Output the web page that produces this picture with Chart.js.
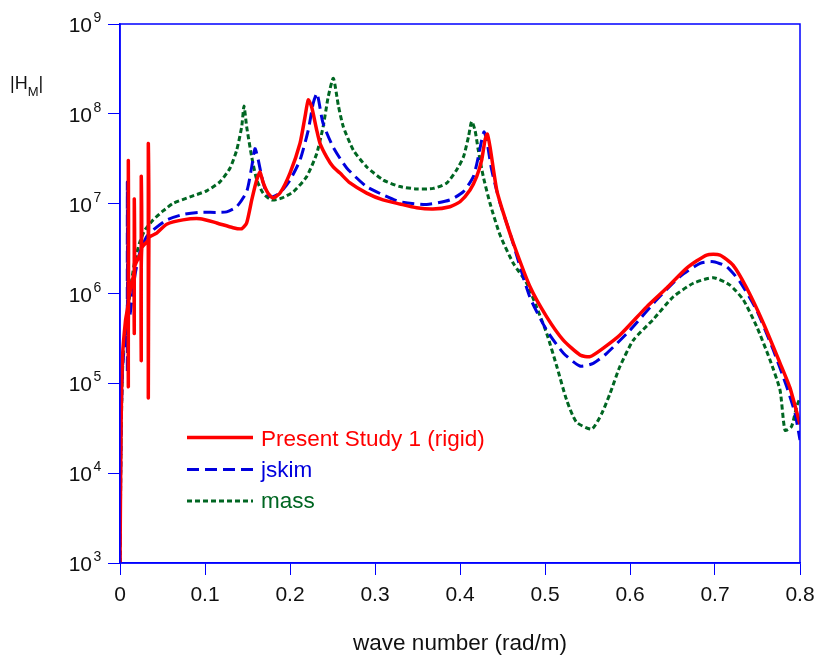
<!DOCTYPE html>
<html>
<head>
<meta charset="utf-8">
<title>|H_M| vs wave number</title>
<script src="https://cdn.jsdelivr.net/npm/chart.js@4.4.1/dist/chart.umd.min.js"></script>
<style>
  html, body { margin: 0; padding: 0; background: #fff; }
  #wrap { width: 816px; height: 657px; }
</style>
</head>
<body>
<div id="wrap"><canvas id="chart" width="816" height="657"></canvas></div>
<script>
// tick values
const xTicks = [0, 0.1, 0.2, 0.3, 0.4, 0.5, 0.6, 0.7, 0.8];
const yExps = [3, 4, 5, 6, 7, 8, 9];

// Present Study 1 (rigid)
const presentX = [0, 0.0012, 0.003, 0.0065, 0.0098, 0.0098, 0.0098, 0.0104, 0.0168, 0.0168, 0.0168, 0.0174,
  0.025, 0.025, 0.025, 0.0256, 0.0333, 0.0333, 0.0333, 0.034, 0.0353, 0.0432, 0.0549, 0.0741, 0.0941, 0.1138,
  0.1329, 0.1432, 0.149, 0.155, 0.1608, 0.1647, 0.1682, 0.1741, 0.18, 0.1882, 0.2, 0.2118, 0.2176, 0.2215,
  0.2255, 0.2314, 0.2353, 0.2432, 0.2506, 0.2588, 0.2706, 0.2902, 0.3094, 0.3294, 0.349, 0.3682, 0.3882, 0.4,
  0.4118, 0.4196, 0.4255, 0.4294, 0.4321, 0.4353, 0.4432, 0.451, 0.4627, 0.4824, 0.502, 0.5215, 0.5412, 0.5529,
  0.5686, 0.5882, 0.6196, 0.6432, 0.6667, 0.6902, 0.7059, 0.7212, 0.7373, 0.7568, 0.7765, 0.7882, 0.8];
const presentY = [1e3, 3e4, 2e5, 5e5, 8e5, 3e7, 9.3e4, 9e5, 1.8e6, 1.12e7, 3.6e5, 2e6,
  3e6, 2e7, 1.8e5, 3.2e6, 4e6, 4.6e7, 6.9e4, 4.1e6, 4.3e6, 4.7e6, 5.9e6, 6.6e6, 6.8e6, 6.1e6,
  5.4e6, 5.26e6, 6.1e6, 1.1e7, 1.83e7, 2.25e7, 1.74e7, 1.31e7, 1.16e7, 1.31e7, 2.19e7, 4.7e7, 9.2e7, 1.43e8,
  1.19e8, 6.6e7, 4.7e7, 3.3e7, 2.58e7, 2.19e7, 1.7e7, 1.31e7, 1.1e7, 9.9e6, 9.0e6, 8.7e6, 9.25e6, 1.05e7,
  1.42e7, 2.0e7, 3.06e7, 5.1e7, 5.96e7, 4.3e7, 1.42e7, 7.9e6, 3.65e6, 1.19e6, 5.5e5, 3.03e5, 2.07e5, 1.98e5,
  2.47e5, 3.45e5, 7.1e5, 1.15e6, 1.92e6, 2.68e6, 2.68e6, 2.07e6, 1.15e6, 4.7e5, 1.68e5, 8.9e4, 3.5e4];

// jskim
const jskimX = [0, 0.0012, 0.003, 0.006, 0.0086, 0.0086, 0.0086, 0.0092, 0.0118, 0.0176, 0.0235, 0.0314, 0.039,
  0.055, 0.0745, 0.094, 0.1137, 0.1255, 0.1373, 0.149, 0.155, 0.1588, 0.1627, 0.1667, 0.1725, 0.1785, 0.188,
  0.2, 0.2118, 0.2215, 0.2274, 0.2318, 0.2388, 0.2506, 0.2667, 0.29, 0.3098, 0.3294, 0.3608, 0.388, 0.404,
  0.4157, 0.4215, 0.4255, 0.4282, 0.4314, 0.4373, 0.447, 0.4588, 0.482, 0.502, 0.5215, 0.541, 0.5568, 0.5726,
  0.6, 0.6314, 0.6588, 0.6824, 0.698, 0.7137, 0.7294, 0.749, 0.7686, 0.7843, 0.794, 0.8];
const jskimY = [1e3, 2.5e4, 1.5e5, 3e5, 4.5e5, 1.74e7, 1.34e5, 4.8e5, 5.8e5, 1.6e6, 2.9e6, 4.3e6, 5.1e6,
  6.6e6, 7.6e6, 8.0e6, 8.0e6, 8.1e6, 9.25e6, 1.36e7, 2.58e7, 4.1e7, 3.06e7, 2.0e7, 1.3e7, 1.19e7, 1.31e7,
  1.83e7, 3.06e7, 6.6e7, 1.32e8, 1.69e8, 7.9e7, 4.3e7, 2.5e7, 1.55e7, 1.25e7, 1.05e7, 9.8e6, 1.1e7, 1.36e7,
  2.0e7, 3.3e7, 5.1e7, 6.3e7, 5.1e7, 2.37e7, 1.02e7, 4.7e6, 9.2e5, 3.9e5, 2.18e5, 1.56e5, 1.67e5, 2.16e5,
  3.9e5, 8.5e5, 1.54e6, 2.17e6, 2.26e6, 1.99e6, 1.35e6, 6.5e5, 2.35e5, 9.2e4, 4.7e4, 2.34e4];

// mass
const massX = [0, 0.0012, 0.0025, 0.0039, 0.0059, 0.0098, 0.0138, 0.0176, 0.0235, 0.0294, 0.039, 0.051, 0.0627,
  0.0824, 0.102, 0.1176, 0.1294, 0.1373, 0.1432, 0.1459, 0.149, 0.155, 0.161, 0.1686, 0.1785, 0.19, 0.204,
  0.2196, 0.2314, 0.239, 0.245, 0.251, 0.257, 0.2627, 0.2745, 0.29, 0.3098, 0.3294, 0.349, 0.3686, 0.3843,
  0.396, 0.404, 0.41, 0.4137, 0.4176, 0.4215, 0.4274, 0.4353, 0.447, 0.4627, 0.4785, 0.49, 0.502, 0.514,
  0.5255, 0.537, 0.555, 0.5667, 0.5765, 0.588, 0.604, 0.627, 0.651, 0.6745, 0.698, 0.7176, 0.7333, 0.749,
  0.7647, 0.7765, 0.7824, 0.79, 0.796, 0.8];
const massY = [1e3, 2e4, 1e5, 2.2e5, 3.6e5, 7.1e5, 1.41e6, 2.36e6, 3.78e6, 5.1e6, 6.6e6, 8.35e6, 1.01e7,
  1.19e7, 1.39e7, 1.75e7, 2.48e7, 3.95e7, 7.2e7, 1.22e8, 7.2e7, 3.3e7, 1.83e7, 1.3e7, 1.1e7, 1.15e7, 1.36e7,
  2.0e7, 3.6e7, 7.2e7, 1.55e8, 2.49e8, 1.22e8, 7.2e7, 3.95e7, 2.58e7, 1.83e7, 1.55e7, 1.46e7, 1.48e7, 1.69e7,
  2.37e7, 3.3e7, 5.56e7, 8.2e7, 6.6e7, 3.95e7, 2.0e7, 1.01e7, 4.5e6, 2.17e6, 1.3e6, 7.1e5, 3.6e5, 1.53e5,
  6.5e4, 3.7e4, 3.1e4, 4.6e4, 7.7e4, 1.53e5, 3.03e5, 5.1e5, 9.2e5, 1.3e6, 1.5e6, 1.24e6, 8.5e5, 4.3e5,
  1.82e5, 8.4e4, 3.0e4, 3.3e4, 5.5e4, 6.9e4];

const FONT = "'Liberation Sans', Arial, Helvetica, sans-serif";
const BLUE_AXIS = "#0000ff";

const series = [
  { label: "Present Study 1 (rigid)", xs: presentX, ys: presentY, color: "#ff0000", width: 3.5, dash: [] },
  { label: "jskim", xs: jskimX, ys: jskimY, color: "#0000dd", width: 3, dash: [12, 6] },
  { label: "mass", xs: massX, ys: massY, color: "#006622", width: 3, dash: [5, 3] },
];

// blue box round the plot area
const framePlugin = {
  id: "frame",
  afterDraw(chart) {
    const { ctx, chartArea: a } = chart;
    ctx.save();
    ctx.strokeStyle = BLUE_AXIS;
    ctx.lineWidth = 1.5;
    ctx.strokeRect(a.left, a.top, a.right - a.left, a.bottom - a.top);
    ctx.restore();
  },
};

// 10^n labels and the |H_M| axis label
const yLabelPlugin = {
  id: "yLabels",
  afterDraw(chart) {
    const { ctx } = chart;
    const y = chart.scales.y;
    ctx.save();
    ctx.fillStyle = "#111";
    ctx.textBaseline = "alphabetic";
    yExps.forEach((e) => {
      const py = y.getPixelForValue(Math.pow(10, e));
      ctx.font = "21px " + FONT;
      ctx.textAlign = "right";
      ctx.fillText("10", 92, py + 8);
      ctx.font = "14px " + FONT;
      ctx.textAlign = "left";
      ctx.fillText(String(e), 93.5, py - 2);
    });

    // |H_M|
    ctx.textAlign = "left";
    ctx.font = "18px " + FONT;
    let x = 10;
    ctx.fillText("|H", x, 89);
    x += ctx.measureText("|H").width;
    ctx.font = "13px " + FONT;
    ctx.fillText("M", x, 96);
    x += ctx.measureText("M").width;
    ctx.font = "18px " + FONT;
    ctx.fillText("|", x, 89);
    ctx.restore();
  },
};

// legend inside the plot
const legendPlugin = {
  id: "insideLegend",
  afterDatasetsDraw(chart) {
    const { ctx } = chart;
    const lineY = [437.5, 469.5, 501];
    const textY = [440, 471, 502];
    ctx.save();
    series.forEach((s, i) => {
      ctx.strokeStyle = s.color;
      ctx.lineWidth = s.width;
      ctx.setLineDash(s.dash);
      ctx.beginPath();
      ctx.moveTo(187, lineY[i]);
      ctx.lineTo(253, lineY[i]);
      ctx.stroke();
      ctx.setLineDash([]);
      ctx.fillStyle = s.color;
      ctx.font = "22.5px " + FONT;
      ctx.textAlign = "left";
      ctx.textBaseline = "middle";
      ctx.fillText(s.label, 261, textY[i]);
    });
    ctx.restore();
  },
};

const ctx = document.getElementById("chart").getContext("2d");
new Chart(ctx, {
  type: "scatter",
  data: {
    datasets: series.map((s) => ({
      label: s.label,
      data: s.xs.map((x, i) => ({ x: x, y: s.ys[i] })),
      showLine: true,
      borderColor: s.color,
      backgroundColor: s.color,
      borderWidth: s.width,
      borderDash: s.dash,
      pointRadius: 0,
      tension: 0.2,
      fill: false,
    })),
  },
  options: {
    responsive: false,
    animation: false,
    devicePixelRatio: 1,
    layout: { padding: { top: 24, right: 16, left: 0, bottom: 0 } },
    scales: {
      x: {
        type: "linear",
        min: 0,
        max: 0.8,
        afterBuildTicks: (s) => { s.ticks = xTicks.map((v) => ({ value: v })); },
        afterFit: (s) => {
          s.height = 94;
          s.paddingLeft = 0;
          s.paddingRight = 0;
        },
        ticks: {
          autoSkip: false,
          maxRotation: 0,
          padding: 8,
          color: "#111",
          font: { family: FONT, size: 21 },
          callback: (v) => (v === 0 ? "0" : (Math.round(v * 10) / 10).toFixed(1)),
        },
        grid: { drawOnChartArea: false, drawTicks: true, tickLength: 12, color: BLUE_AXIS, lineWidth: 1 },
        border: { color: BLUE_AXIS, width: 1.5 },
        title: {
          display: true,
          text: "wave number (rad/m)",
          color: "#111",
          font: { family: FONT, size: 22.5 },
          padding: { top: 0, bottom: 0 },
        },
      },
      y: {
        type: "logarithmic",
        min: 1e3,
        max: 1e9,
        afterBuildTicks: (s) => { s.ticks = yExps.map((e) => ({ value: Math.pow(10, e) })); },
        afterFit: (s) => {
          s.width = 120;
          s.paddingTop = 0;
          s.paddingBottom = 0;
        },
        ticks: { autoSkip: false, callback: () => "" },
        grid: { drawOnChartArea: false, drawTicks: true, tickLength: 12, color: BLUE_AXIS, lineWidth: 1 },
        border: { color: BLUE_AXIS, width: 1.5 },
      },
    },
    plugins: {
      legend: { display: false },
      tooltip: { enabled: false },
    },
  },
  plugins: [framePlugin, yLabelPlugin, legendPlugin],
});
</script>
</body>
</html>
